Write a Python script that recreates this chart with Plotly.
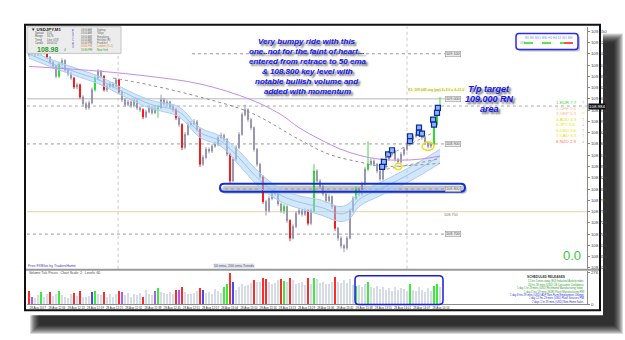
import plotly.graph_objects as go

W, H = 625, 340


def PX(x):
    return x / W


def PY(y):
    return 1 - y / H


# ---------------- data (USDJPY, M1) ----------------
bar_idx = list(range(138))
bar_close = [
    109.101, 109.105, 109.099, 109.103, 109.101, 109.107, 109.092, 109.081, 109.072, 109.050,
    109.077, 109.085, 109.064, 109.055, 109.046, 109.026, 109.031, 109.004, 108.989, 108.980,
    108.991, 109.020, 109.046, 109.061, 109.050, 109.020, 109.028, 109.033, 109.028, 109.042,
    109.015, 108.998, 108.987, 108.993, 108.985, 108.996, 108.980, 108.976, 108.960, 108.971,
    108.980, 108.969, 108.978, 108.980, 108.998, 108.989, 108.993, 108.982, 108.976, 108.958,
    108.943, 108.892, 108.921, 108.943, 108.945, 108.949, 108.932, 108.855, 108.870, 108.888,
    108.884, 108.895, 108.899, 108.914, 108.919, 108.910, 108.877, 108.818, 108.866, 108.892,
    108.921, 108.965, 108.976, 108.954, 108.936, 108.888, 108.855, 108.827, 108.772, 108.752,
    108.779, 108.794, 108.789, 108.767, 108.752, 108.761, 108.730, 108.691, 108.717, 108.746,
    108.752, 108.744, 108.752, 108.724, 108.752, 108.840, 108.818, 108.805, 108.789, 108.774,
    108.783, 108.761, 108.713, 108.691, 108.674, 108.669, 108.691, 108.752, 108.779, 108.800,
    108.789, 108.811, 108.844, 108.855, 108.862, 108.855, 108.840, 108.822, 108.849, 108.866,
    108.877, 108.884, 108.866, 108.860, 108.877, 108.888, 108.899, 108.910, 108.917, 108.921,
    108.925, 108.914, 108.903, 108.895, 108.899, 108.943, 108.976, 108.984,
]
first_open = 109.098
bar_open = [first_open] + bar_close[:-1]
bar_high = [
    109.108, 109.111, 109.110, 109.109, 109.107, 109.112, 109.110, 109.095, 109.085, 109.075,
    109.082, 109.090, 109.088, 109.068, 109.060, 109.049, 109.036, 109.034, 109.008, 108.994,
    108.996, 109.025, 109.051, 109.066, 109.064, 109.053, 109.033, 109.038, 109.037, 109.047,
    109.045, 109.019, 109.002, 108.998, 108.997, 109.001, 108.999, 108.985, 108.979, 108.976,
    108.985, 108.984, 108.983, 108.986, 109.009, 109.002, 108.998, 108.996, 108.986, 108.979,
    108.962, 108.946, 108.926, 108.948, 108.951, 108.955, 108.953, 108.935, 108.875, 108.893,
    108.892, 108.900, 108.905, 108.919, 108.925, 108.923, 108.913, 108.880, 108.871, 108.897,
    108.926, 108.970, 108.987, 108.979, 108.958, 108.939, 108.891, 108.858, 108.830, 108.776,
    108.784, 108.799, 108.800, 108.792, 108.770, 108.767, 108.764, 108.733, 108.722, 108.751,
    108.758, 108.756, 108.757, 108.755, 108.757, 108.855, 108.844, 108.822, 108.809, 108.793,
    108.788, 108.786, 108.764, 108.716, 108.695, 108.678, 108.696, 108.757, 108.784, 108.806,
    108.804, 108.816, 108.849, 108.906, 108.868, 108.866, 108.858, 108.843, 108.854, 108.871,
    108.882, 108.889, 108.887, 108.869, 108.882, 108.893, 108.904, 108.915, 108.922, 108.927,
    108.930, 108.928, 108.917, 108.906, 108.904, 108.948, 108.981, 109.004,
]
bar_low = [
    109.093, 109.097, 109.094, 109.095, 109.096, 109.098, 109.088, 109.076, 109.066, 109.046,
    109.046, 109.073, 109.060, 109.050, 109.042, 109.022, 109.021, 109.000, 108.984, 108.975,
    108.976, 108.988, 109.016, 109.042, 109.046, 109.016, 109.015, 109.024, 109.023, 109.025,
    109.011, 108.993, 108.982, 108.983, 108.980, 108.981, 108.975, 108.971, 108.955, 108.957,
    108.968, 108.965, 108.966, 108.958, 108.977, 108.985, 108.985, 108.978, 108.971, 108.953,
    108.938, 108.886, 108.888, 108.918, 108.939, 108.941, 108.928, 108.849, 108.851, 108.866,
    108.879, 108.880, 108.891, 108.895, 108.910, 108.905, 108.872, 108.812, 108.815, 108.862,
    108.888, 108.918, 108.961, 108.949, 108.931, 108.883, 108.850, 108.822, 108.767, 108.741,
    108.748, 108.775, 108.785, 108.762, 108.747, 108.745, 108.725, 108.684, 108.688, 108.713,
    108.742, 108.739, 108.740, 108.719, 108.720, 108.748, 108.813, 108.800, 108.784, 108.769,
    108.770, 108.756, 108.707, 108.685, 108.668, 108.660, 108.665, 108.688, 108.748, 108.775,
    108.784, 108.785, 108.807, 108.840, 108.851, 108.850, 108.835, 108.817, 108.818, 108.845,
    108.862, 108.873, 108.861, 108.855, 108.856, 108.873, 108.884, 108.895, 108.906, 108.913,
    108.916, 108.909, 108.898, 108.890, 108.891, 108.896, 108.940, 108.972,
]
# n = normal (grey), r = red highlight, g = green highlight
bar_color = list(
    "nnnnnnrnnn" "gnnnnrnrnn" "nngnnrnnnn" "rnnnnnnnrn" "nnngnnnnnr"
    "nrnnnnnrnn" "nnnnnnnrnn" "nnnnnnnnrn" "nnnnngnrnn" "nnnrngnnnn"
    "nnrnnnnnng" "nnngnnnnnn" "nnnnnnnnnn" "nnnnnggg"
)

tick_volume = [
    118, 62, 55, 84, 112, 70, 96, 112, 74, 90,
    122, 80, 64, 58, 92, 100, 78, 118, 70, 62,
    74, 110, 122, 92, 80, 108, 70, 96, 62, 88,
    116, 112, 86, 98, 70, 90, 82, 104, 64, 130,
    96, 80, 120, 140, 110, 98, 88, 106, 92, 128,
    130, 150, 112, 96, 90, 104, 120, 142, 130, 100,
    110, 96, 132, 118, 104, 150, 180, 276, 200, 130,
    150, 176, 160, 170, 184, 210, 196, 200, 232, 226,
    200, 176, 190, 212, 224, 204, 200, 228, 214, 180,
    186, 196, 172, 228, 180, 232, 220, 190, 200, 176,
    180, 196, 236, 200, 186, 210, 190, 226, 170, 160,
    170, 150, 176, 196, 150, 140, 160, 132, 150, 128,
    140, 120, 150, 128, 140, 136, 118, 176, 130, 120,
    150, 124, 110, 140, 120, 165, 176, 150,
]
vol_color = list(
    "rpnngnnrnn" "gnnnnrnrnn" "nbgnnrnnnn" "rpnnnnnnrn" "nnpgnnnnnr"
    "prnnnnnrbn" "nnnnnggrbn" "nnnnnrnnrr" "nnnnrgnrnn" "nnnrngnnnn"
    "nnrnnnnnng" "nnngnnnnnn" "nnnnnnngnn" "nnnnnggn"
)

# indicator lines (bar index, price)
band_x = [0, 10, 24, 30, 40, 50, 57, 64, 70, 77, 84, 90, 97, 104, 107, 110, 117, 124, 130, 137]
band_hi = [109.107, 109.081, 109.048, 109.028, 108.998, 108.982, 108.936, 108.917, 108.884, 108.835,
           108.800, 108.785, 108.776, 108.761, 108.770, 108.792, 108.814, 108.838, 108.860, 108.888]
band_lo = [109.090, 109.064, 109.031, 109.011, 108.980, 108.960, 108.914, 108.895, 108.853, 108.803,
           108.772, 108.757, 108.743, 108.728, 108.735, 108.761, 108.785, 108.807, 108.829, 108.857]
band_mid = [109.099, 109.072, 109.040, 109.020, 108.989, 108.971, 108.925, 108.906, 108.869, 108.819,
            108.786, 108.771, 108.760, 108.745, 108.752, 108.777, 108.800, 108.823, 108.845, 108.873]
ema200_x = [0, 24, 40, 57, 74, 84, 90, 97, 104, 110, 117, 124, 130, 137]
ema200_y = [109.072, 109.061, 109.050, 109.033, 108.998, 108.965, 108.936, 108.910, 108.888, 108.875,
            108.866, 108.864, 108.866, 108.873]
ema100_x = [28, 40, 57, 74, 90, 100, 110, 117, 124, 137]
ema100_y = [109.046, 109.031, 109.004, 108.969, 108.910, 108.877, 108.860, 108.851, 108.851, 108.857]

signal_x = [117.7, 118.3, 119.7, 121.0, 127.0, 127.0, 130.0, 130.0, 131.0, 134.7, 135.0, 136.0, 136.3]
signal_y = [108.849, 108.860, 108.877, 108.886, 108.917, 108.906, 108.936, 108.925, 108.923, 108.954,
            108.943, 108.969, 108.980]

key_levels = [109.100, 109.000, 108.900, 108.800, 108.700]
key_level_start = [55, 0, 0, 64, 0]
daily_level = 108.750
last_price = 108.984

price_ticks = [round(108.625 + 0.025 * k, 3) for k in range(22)]
time_labels = ["28 Aug 2017", "28 Aug 12:06", "28 Aug 12:13", "28 Aug 12:19", "28 Aug 12:25",
               "28 Aug 12:32", "28 Aug 12:38", "28 Aug 12:45", "28 Aug 12:51", "28 Aug 12:57",
               "28 Aug 13:04", "28 Aug 13:10", "28 Aug 13:16", "28 Aug 13:23", "28 Aug 13:29",
               "28 Aug 13:36", "28 Aug 13:42", "28 Aug 13:48", "28 Aug 13:55", "28 Aug 14:01",
               "28 Aug 14:07", "28 Aug 14:14"]
time_tick_pos = [k * 6.4 for k in range(len(time_labels))]

strength_names = ["1.EUR 7.7", "2.CHF 5.4", "3.GBP 5.3", "4.AUD 4.3", "5.JPY 3.6", "6.USD 3.6",
                  "7.CAD 3.3", "8.NZD 2.9"]
strength_colors = ["#33dd33", "#ffb784", "#ffb784", "#e4e400", "#e4e400", "#e4e400", "#e4e400", "#ff7a55"]
strength_arrows = ["↑", "=", "=", "↑", "↓", "↑", "↑", "↓"]
arrow_colors = ["#22cc22", "#f0e68c", "#f0e68c", "#22cc22", "#ee2222", "#22cc22", "#22cc22", "#ee2222"]

# ---------------- figure ----------------
fig = go.Figure()

palette = {
    "n": ("#bdbdd0", "#8585a3"),
    "r": ("#ff1f1f", "#ee0000"),
    "g": ("#2bee2b", "#18d018"),
}
for code, (fill, line) in palette.items():
    ids = [i for i, c in enumerate(bar_color) if c == code]
    fig.add_trace(go.Candlestick(
        x=[bar_idx[i] for i in ids],
        open=[bar_open[i] for i in ids], high=[bar_high[i] for i in ids],
        low=[bar_low[i] for i in ids], close=[bar_close[i] for i in ids],
        increasing=dict(line=dict(color=line, width=0.8), fillcolor=fill),
        decreasing=dict(line=dict(color=line, width=0.8), fillcolor=fill),
        whiskerwidth=0, showlegend=False, hoverinfo="skip", xaxis="x", yaxis="y"))

# 50 ema band
fig.add_trace(go.Scatter(x=band_x, y=band_lo, mode="lines", line=dict(color="#a9cdf0", width=1, shape="spline"),
                         showlegend=False, hoverinfo="skip"))
fig.add_trace(go.Scatter(x=band_x, y=band_hi, mode="lines", fill="tonexty", fillcolor="rgba(165,208,245,0.5)",
                         line=dict(color="#a9cdf0", width=1, shape="spline"), showlegend=False, hoverinfo="skip"))
fig.add_trace(go.Scatter(x=band_x, y=band_mid, mode="lines", line=dict(color="#8fbbe6", width=0.8, shape="spline"),
                         showlegend=False, hoverinfo="skip"))
fig.add_trace(go.Scatter(x=ema200_x, y=ema200_y, mode="lines", line=dict(color="#c58be8", width=1, shape="spline"),
                         showlegend=False, hoverinfo="skip"))
fig.add_trace(go.Scatter(x=ema100_x, y=ema100_y, mode="lines",
                         line=dict(color="#8f8f8f", width=1, dash="dot", shape="spline"),
                         showlegend=False, hoverinfo="skip"))
fig.add_trace(go.Scatter(x=signal_x, y=signal_y, mode="markers",
                         marker=dict(symbol="square", size=5, color="#8fb4ff", line=dict(color="#0a2a9a", width=1.2)),
                         showlegend=False, hoverinfo="skip"))

# volume
vpal = {"n": "#d5dce6", "r": "#ff2b2b", "g": "#35ee35", "p": "#b05cf0", "b": "#4848ee"}
fig.add_trace(go.Bar(x=bar_idx, y=tick_volume, marker=dict(color=[vpal[c] for c in vol_color], line=dict(width=0)),
                     width=0.55, xaxis="x2", yaxis="y2", showlegend=False, hoverinfo="skip"))

shapes = []
ann = []


def rrect_path(x0, y0, x1, y1, r):
    pts = [
        ("M", x0 + r, y0), ("L", x1 - r, y0), ("Q", x1, y0, x1, y0 + r), ("L", x1, y1 - r),
        ("Q", x1, y1, x1 - r, y1), ("L", x0 + r, y1), ("Q", x0, y1, x0, y1 - r), ("L", x0, y0 + r),
        ("Q", x0, y0, x0 + r, y0),
    ]
    s = ""
    for p in pts:
        cmd = p[0]
        coords = p[1:]
        parts = []
        for k in range(0, len(coords), 2):
            parts.append(f"{PX(coords[k]):.5f},{PY(coords[k + 1]):.5f}")
        s += cmd + " " + " ".join(parts) + " "
    return s + "Z"


def txt(x, y, text, size, color, xanchor="center", yanchor="middle", **kw):
    d = dict(x=PX(x), y=PY(y), xref="paper", yref="paper", text=text, showarrow=False, xanchor=xanchor,
             yanchor=yanchor, borderpad=0, font=dict(family="Liberation Sans", size=size, color=color))
    if "shadow" in kw:
        d["font"]["shadow"] = kw.pop("shadow")
    d.update(kw)
    return d


# drop shadow + card + frame
for k in range(10):
    shapes.append(dict(type="rect", xref="paper", yref="paper", x0=PX(30 + k), x1=PX(623 - k),
                       y0=PY(337 - k), y1=PY(33 + k), fillcolor="rgba(0,0,0,0.15)", line=dict(width=0),
                       layer="below"))
shapes.append(dict(type="rect", xref="paper", yref="paper", x0=PX(18), x1=PX(603), y0=PY(318), y1=PY(18),
                   fillcolor="white", line=dict(width=0), layer="below"))
shapes.append(dict(type="rect", xref="paper", yref="paper", x0=PX(25), x1=PX(600), y0=PY(313), y1=PY(24),
                   fillcolor="rgba(0,0,0,0)", line=dict(color="#111", width=2), layer="above"))
# panel separator
shapes.append(dict(type="line", xref="paper", yref="paper", x0=PX(26), x1=PX(599), y0=PY(272), y1=PY(272),
                   line=dict(color="#9a9a9a", width=2)))

# vertical dotted separators
for vx in [29.7, 126.0]:
    shapes.append(dict(type="line", xref="x", yref="paper", x0=vx, x1=vx, y0=PY(271), y1=PY(26),
                       line=dict(color="#c8c8c8", width=1, dash="dot"), layer="below"))

# key levels
for lev, st in zip(key_levels, key_level_start):
    solid = abs(lev - 109.0) < 1e-9
    shapes.append(dict(type="line", xref="x", yref="y", x0=st - 0.7, x1=138.7, y0=lev, y1=lev,
                       line=dict(color="#b8b8b8" if solid else "#9a9a9a", width=1, dash="solid" if solid else "dot"),
                       layer="below"))
    ann.append(dict(x=138.8, y=lev, xref="x", yref="y", text=f"{lev:.3f}", showarrow=False, xanchor="left",
                    font=dict(size=3.8, color="#555", family="Liberation Sans"), bgcolor="#eeeeee",
                    bordercolor="#9a9a9a", borderwidth=0.6, borderpad=0.4))
shapes.append(dict(type="line", xref="x", yref="y", x0=-0.7, x1=186, y0=daily_level, y1=daily_level,
                   line=dict(color="#e8dfb8", width=1.2), layer="below"))
ann.append(dict(x=138.0, y=daily_level, xref="x", yref="y", text=f"{daily_level:.3f}", showarrow=False,
                xanchor="left", yanchor="top", borderpad=0, font=dict(size=3.8, color="#777", family="Liberation Sans")))
# current price line
shapes.append(dict(type="line", xref="x", yref="y", x0=-0.7, x1=186, y0=last_price, y1=last_price,
                   line=dict(color="#aaaaaa", width=1, dash="dot"), layer="below"))

# 108.800 key level box
shapes.append(dict(type="path", xref="paper", yref="paper", path=rrect_path(222, 187, 467, 195, 4),
                   fillcolor="rgba(90,90,90,0.35)", line=dict(width=0), layer="below"))
shapes.append(dict(type="path", xref="paper", yref="paper", path=rrect_path(220, 185, 465, 193, 4),
                   fillcolor="rgba(0,0,0,0)", line=dict(color="#1030e0", width=2)))

# trend dotted lines near the end
shapes.append(dict(type="line", xref="x", yref="y", x0=117, x1=134.7, y0=108.866, y1=108.925,
                   line=dict(color="#9a9a9a", width=1, dash="dot")))
shapes.append(dict(type="line", xref="x", yref="y", x0=119.3, x1=136, y0=108.844, y1=108.866,
                   line=dict(color="#9a9a9a", width=1, dash="dot")))
# yellow circles
shapes.append(dict(type="circle", xref="x", yref="y", x0=122.0, x1=124.2, y0=108.843, y1=108.857,
                   line=dict(color="#e8e020", width=1.5)))
shapes.append(dict(type="circle", xref="x", yref="y", x0=131.0, x1=135.0, y0=108.886, y1=108.904,
                   line=dict(color="#e8e020", width=1.5)))

# volume box
shapes.append(dict(type="path", xref="paper", yref="paper", path=rrect_path(355, 278, 443, 307, 4),
                   fillcolor="rgba(0,0,0,0)", line=dict(color="#1a1ae6", width=1.5)))

# info box top-left
shapes.append(dict(type="rect", xref="paper", yref="paper", x0=PX(27), x1=PX(121), y0=PY(53), y1=PY(26),
                   fillcolor="#ececec", line=dict(color="#c4c4c4", width=1)))
ann.append(txt(30, 29.3, "<b>▼ USDJPY,M1</b>", 4.4, "#222", xanchor="left"))
for k, (a, b) in enumerate([("Spread", "0.01"), ("Range", "50.76"), ("Trend", "Line: 07/8"), ("Candle", "00:00:02")]):
    ann.append(txt(34, 32.8 + 3.1 * k, a, 2.6, "#555", xanchor="left"))
    ann.append(txt(46, 32.8 + 3.1 * k, b, 2.6, "#555", xanchor="left"))
ann.append(txt(36, 48.6, "<b>108.98</b>", 7, "#2e9a2e", xanchor="left"))
ann.append(txt(62.5, 49.6, "4", 3.4, "#2e9a2e", xanchor="left"))
for k, ch in enumerate("PSYCHO"):
    ann.append(txt(72.5, 30 + 3.3 * k, ch, 2.6, "#3030c0"))
sessions = [("03:00 AM", "Sydney"), ("03:00 AM", "Tokyo"), ("03:00 AM", "Hongkong"), ("05:00 AM", "Helsinki (R)"),
            ("05:00 PM", "Frankfurt"), ("06:00 PM", "London (O+1)"), ("10:30 PM", "New York")]
for k, (t, nm) in enumerate(sessions):
    col = "#666" if k < 5 else ("#e08a2a" if k == 5 else "#2a9a2a")
    ann.append(txt(80, 29.5 + 3.3 * k, t, 2.6, col, xanchor="left"))
    ann.append(txt(96, 29.5 + 3.3 * k, nm, 2.6, col, xanchor="left"))

# top-right legend box
shapes.append(dict(type="path", xref="paper", yref="paper", path=rrect_path(518, 35, 580, 51, 3),
                   fillcolor="rgba(80,80,80,0.35)", line=dict(width=0)))
shapes.append(dict(type="path", xref="paper", yref="paper", path=rrect_path(516, 33, 578, 49, 3),
                   fillcolor="white", line=dict(color="#2a2af0", width=1.5)))
shapes.append(dict(type="line", xref="paper", yref="paper", x0=PX(524), x1=PX(564), y0=PY(42.5), y1=PY(42.5),
                   line=dict(color="#22dd22", width=1.6, dash="dash")))
shapes.append(dict(type="line", xref="paper", yref="paper", x0=PX(564), x1=PX(576), y0=PY(42.5), y1=PY(42.5),
                   line=dict(color="#ff2222", width=1.6, dash="dash")))
ann.append(txt(548, 37, "M1 M5 M15 M30 H1 H4 D1 W1 MN", 3, "#7a9ad0"))
ann.append(txt(518.5, 42.5, "USD", 2.6, "#7a9ad0", xanchor="left"))

# yellow pivot label
ann.append(txt(407, 90, "R1: 109.048 avg (pip) 4+3.0 = 4+11.0", 3.4, "#888", xanchor="left", bgcolor="#ffffc8"))

# commentary text with shadow
shadow = "2px 2px 2px rgba(30,30,30,0.75)"
main_lines = ["Very bumpy ride with this", "one..not for the faint of heart...", "entered from retrace to 50 ema",
              "& 108.800 key level with", "notable bullish volume and", "added with momentum"]
for k, t in enumerate(main_lines):
    ann.append(txt(307, 41 + 10.2 * k, f"<b><i>{t}</i></b>", 8, "#1414f0", shadow=shadow))
tp_lines = ["T/p target", "109.000 RN", "area"]
for k, t in enumerate(tp_lines):
    ann.append(txt(489, 89 + 10.2 * k, f"<b><i>{t}</i></b>", 9, "#1414f0", shadow=shadow))

# currency strength
for k, (nm, col, ar, ac) in enumerate(zip(strength_names, strength_colors, strength_arrows, arrow_colors)):
    yy = 103 + 5.6 * k
    ann.append(txt(555, yy, nm, 4.4, col, xanchor="left"))
    ann.append(txt(583, yy, f"<b>{ar}</b>", 4.6, ac))

ann.append(txt(572, 258, "0.0", 13, "#33cc33"))

# current price tag on axis
ann.append(txt(588, 106.3, f"{last_price:.3f}", 4.4, "white", xanchor="left", bgcolor="#111"))

# bottom texts
ann.append(txt(27, 268, "Free FXBlue by TradersHome", 3.6, "#3a3acc", xanchor="left"))
ann.append(txt(234, 268, "50 ema, 200 ema Trends", 3.6, "#555", bgcolor="#dde5f2"))
ann.append(txt(28, 275.5, "Volume Tick Prices   Chart Scale: 2;  Levels: 60", 3.4, "#444", xanchor="left"))

sched = [
    ("12 hrs 5 mins away (EU) Industrial Activity index", "#2a9a2a"),
    ("20 hrs 59 mins (USD) CB Consumer Confidence", "#2a9a2a"),
    ("1 day 1 hr 29 mins (USD) Richmond Manufacturing Index", "#2a9a2a"),
    ("1 day 4 hrs 59 mins (EUR) Flash Manufacturing PMI", "#2a9a2a"),
    ("1 day 8 hrs 29 mins (USD) ADP Non-Farm Employment Change", "#2a2ae0"),
    ("1 day 12 hrs 29 mins (USD) Flash Services PMI", "#2a2ae0"),
    ("2 days 1 hr 29 mins (USD) New Home Sales", "#2a2ae0"),
]
ann.append(txt(546, 279.5, "<b>SCHEDULED RELEASES</b>", 3.2, "#333"))
for k, (t, c) in enumerate(sched):
    ann.append(txt(585, 283.5 + 3.5 * k, t, 2.6, c, xanchor="right"))

fig.update_layout(
    width=W, height=H, margin=dict(l=0, r=0, t=0, b=0),
    paper_bgcolor="white", plot_bgcolor="rgba(0,0,0,0)",
    showlegend=False, hovermode=False, bargap=0, boxgap=0.5,
    shapes=shapes, annotations=ann,
    xaxis=dict(domain=[PX(27), PX(587)], range=[-0.667, 186.0], anchor="y", showgrid=False, zeroline=False,
               showticklabels=False, rangeslider=dict(visible=False), showline=False, fixedrange=True),
    yaxis=dict(domain=[PY(271), PY(26)], range=[108.623, 109.160], side="right", anchor="x", showgrid=False,
               zeroline=False, tickvals=price_ticks, ticktext=[f"{v:.3f}" for v in price_ticks],
               tickfont=dict(size=4.4, color="#444", family="Liberation Sans"), ticks="outside", ticklen=2,
               tickcolor="#888", showline=True, linecolor="#8a8a8a", linewidth=1, fixedrange=True),
    xaxis2=dict(domain=[PX(27), PX(587)], range=[-0.667, 186.0], anchor="y2", showgrid=False, zeroline=False,
                tickvals=[p + 2.9 for p in time_tick_pos], ticktext=time_labels, tickangle=0,
                tickfont=dict(size=2.9, color="#333", family="Liberation Sans"), ticks="", showline=True,
                linecolor="#8a8a8a", linewidth=1, fixedrange=True),
    yaxis2=dict(domain=[PY(307), PY(273)], range=[0, 292], side="right", anchor="x2", showgrid=False,
                zeroline=False, tickvals=[0, 276], ticktext=["0", "276"],
                tickfont=dict(size=4.4, color="#444", family="Liberation Sans"), ticks="outside", ticklen=2,
                tickcolor="#888", showline=True, linecolor="#8a8a8a", linewidth=1, fixedrange=True),
)

fig.write_html("out.html", post_script="document.body.style.margin='0';document.body.style.overflow='hidden';")
